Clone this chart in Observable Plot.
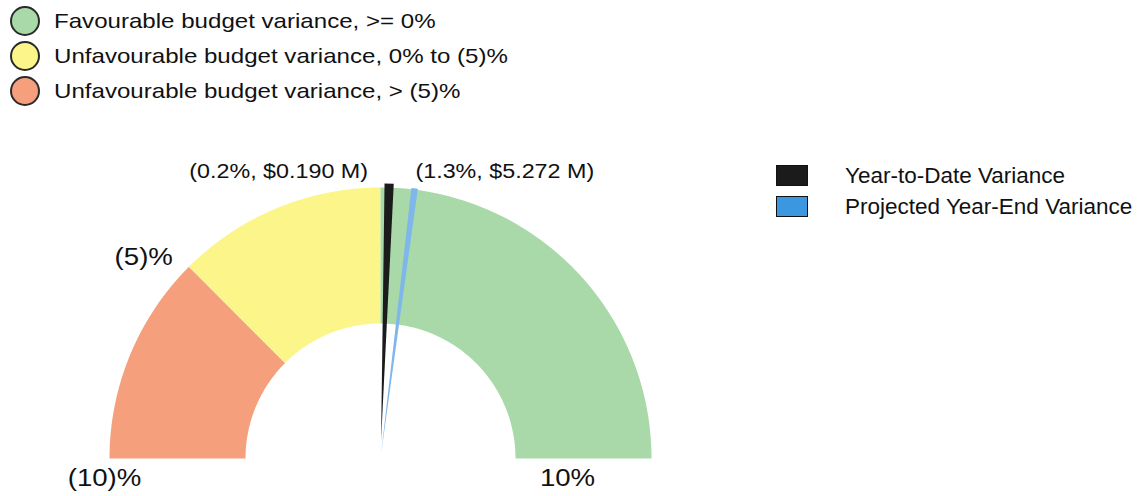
<!DOCTYPE html>
<html>
<head>
<meta charset="utf-8">
<script src="https://cdn.jsdelivr.net/npm/d3@7"></script>
<script src="https://cdn.jsdelivr.net/npm/@observablehq/plot@0.6"></script>
<style>
  html, body { margin: 0; padding: 0; background: #fff; }
  body { width: 1146px; height: 496px; position: relative; overflow: hidden;
         font-family: "Liberation Sans", Arial, sans-serif; color: #111; }
  #topLegend { position: absolute; left: 10px; top: 3px; }
  #topLegend .row { display: flex; align-items: center; height: 35px; font-size: 21px; white-space: nowrap; }
  #topLegend .row span { display: inline-block; transform: scaleX(1.147); transform-origin: 0 50%; }
  #topLegend .sw { width: 26px; height: 26px; border-radius: 50%; border: 2px solid #2a2a2a; margin-right: 14px; flex: none; }
  #sideLegend { position: absolute; left: 776px; top: 160px; }
  #sideLegend .row { display: flex; align-items: center; height: 31px; font-size: 22.5px; white-space: nowrap; }
  #sideLegend .sw { width: 30px; height: 19px; border: 1.5px solid #111; margin-right: 37px; flex: none; }
  #chart { position: absolute; left: 0; top: 110px; }
</style>
</head>
<body>
<div id="topLegend"></div>
<div id="chart"></div>
<div id="sideLegend"></div>
<script>
// ---- data ----
const bandNames  = ["Unfavourable budget variance, > (5)%", "Unfavourable budget variance, 0% to (5)%", "Favourable budget variance, >= 0%"];
const bandFrom   = [-10, -5, 0];
const bandTo     = [-5, 0, 10];
const bandColors = ["#F59F7D", "#FCF68A", "#A9D9A9"];
const legendOrder = [2, 1, 0];

const needleNames  = ["Year-to-Date Variance", "Projected Year-End Variance"];
const needleValues = [0.2, 0.8];          // needle positions as drawn on the gauge (%)
const needleLabels = ["(0.2%, $0.190 M)", "(1.3%, $5.272 M)"];
const needleColors = ["#1b1b1b", "#7fb7ea"];
const needleLegendColors = ["#1b1b1b", "#3b97e0"];

const tickValues = [-10, -5, 10];
const tickLabels = ["(10)%", "(5)%", "10%"];

// ---- geometry helpers ----
const angle = d3.scaleLinear([-10, 10], [Math.PI, 0]);
const R_OUT = 1, R_IN = 135 / 271;

const bandPts = [];
bandNames.forEach((name, i) => {
  const n = 80;
  const outer = d3.range(n + 1).map(k => bandFrom[i] + (bandTo[i] - bandFrom[i]) * k / n);
  outer.forEach(v => bandPts.push({band: name, x: R_OUT * Math.cos(angle(v)), y: R_OUT * Math.sin(angle(v))}));
  outer.slice().reverse().forEach(v => bandPts.push({band: name, x: R_IN * Math.cos(angle(v)), y: R_IN * Math.sin(angle(v))}));
});

const needleSpec = [{r0: 0.065, r1: 1.015, w: 0.017}, {r0: 0.015, r1: 1.005, w: 0.012}];
const needlePts = [];
needleNames.forEach((name, i) => {
  const a = angle(needleValues[i]);
  const s = needleSpec[i];
  const cx = Math.cos(a), cy = Math.sin(a), px = -Math.sin(a), py = Math.cos(a);
  needlePts.push({needle: name, x: s.r0 * cx, y: s.r0 * cy});
  needlePts.push({needle: name, x: s.r1 * cx + s.w * px, y: s.r1 * cy + s.w * py});
  needlePts.push({needle: name, x: s.r1 * cx - s.w * px, y: s.r1 * cy - s.w * py});
  needlePts.push({needle: name, x: s.r0 * cx, y: s.r0 * cy});
});

const needleText = needleNames.map((name, i) => ({
  label: needleLabels[i],
  x: Math.cos(angle(needleValues[i])),
  y: Math.sin(angle(needleValues[i]))
}));

const W = 760, H = 386, PX = 271, CX = 380, CY = 348;

const marks = [];
bandNames.forEach((name, i) => {
  marks.push(Plot.line(bandPts.filter(d => d.band === name), {x: "x", y: "y", fill: bandColors[i], stroke: "none"}));
});
needleNames.forEach((name, i) => {
  marks.push(Plot.line(needlePts.filter(d => d.needle === name), {x: "x", y: "y", fill: needleColors[i], stroke: "none"}));
});
marks.push(Plot.text([needleText[0]], {x: "x", y: "y", text: "label", textAnchor: "end", dx: -21, dy: -16, fontSize: 21, fill: "#111"}));
marks.push(Plot.text([needleText[1]], {x: "x", y: "y", text: "label", textAnchor: "start", dx: 1, dy: -18, fontSize: 21, fill: "#111"}));

const tickText = tickValues.map((v, i) => ({v, label: tickLabels[i], x: Math.cos(angle(v)), y: Math.sin(angle(v))}));
marks.push(Plot.text([tickText[0]], {x: "x", y: "y", text: "label", textAnchor: "middle", dx: -5, dy: 20, fontSize: 24, fill: "#111"}));
marks.push(Plot.text([tickText[1]], {x: "x", y: "y", text: "label", textAnchor: "end", dx: -16, dy: -10, fontSize: 24, fill: "#111"}));
marks.push(Plot.text([tickText[2]], {x: "x", y: "y", text: "label", textAnchor: "middle", dx: -84, dy: 20, fontSize: 24, fill: "#111"}));

const chart = Plot.plot({
  width: W, height: H,
  margin: 0,
  style: {fontFamily: "'Liberation Sans', Arial, sans-serif", background: "transparent"},
  x: {domain: [-CX / PX, (W - CX) / PX], range: [0, W], axis: null},
  y: {domain: [-(H - CY) / PX, CY / PX], range: [H, 0], axis: null},
  marks
});

// the reference's lettering is slightly wide: stretch each label horizontally about its anchor
const stretch = {"21": 1.11, "24": 1.15};
d3.select(chart).selectAll("text").each(function() {
  const g = this.closest("g[font-size]");
  const s = g ? stretch[g.getAttribute("font-size")] : null;
  if (!s) return;
  const t = this.getAttribute("transform") || "";
  const x = this.getAttribute("x"), y = this.getAttribute("y");
  let pre = "";
  if (x != null && !isNaN(+x)) { pre = `translate(${+x},0)`; this.removeAttribute("x"); }
  if (y != null && !isNaN(+y)) { pre += ` translate(0,${+y})`; this.removeAttribute("y"); }
  this.setAttribute("transform", `${t} ${pre} scale(${s},1)`.trim());
});
document.getElementById("chart").appendChild(chart);

// ---- legends ----
const topLeg = document.getElementById("topLegend");
legendOrder.forEach(i => {
  const row = document.createElement("div"); row.className = "row";
  const sw = document.createElement("div"); sw.className = "sw"; sw.style.background = bandColors[i];
  const tx = document.createElement("span"); tx.textContent = bandNames[i];
  row.append(sw, tx); topLeg.appendChild(row);
});
const sideLeg = document.getElementById("sideLegend");
needleNames.forEach((name, i) => {
  const row = document.createElement("div"); row.className = "row";
  const sw = document.createElement("div"); sw.className = "sw"; sw.style.background = needleLegendColors[i];
  const tx = document.createElement("span"); tx.textContent = name;
  row.append(sw, tx); sideLeg.appendChild(row);
});
</script>
</body>
</html>
